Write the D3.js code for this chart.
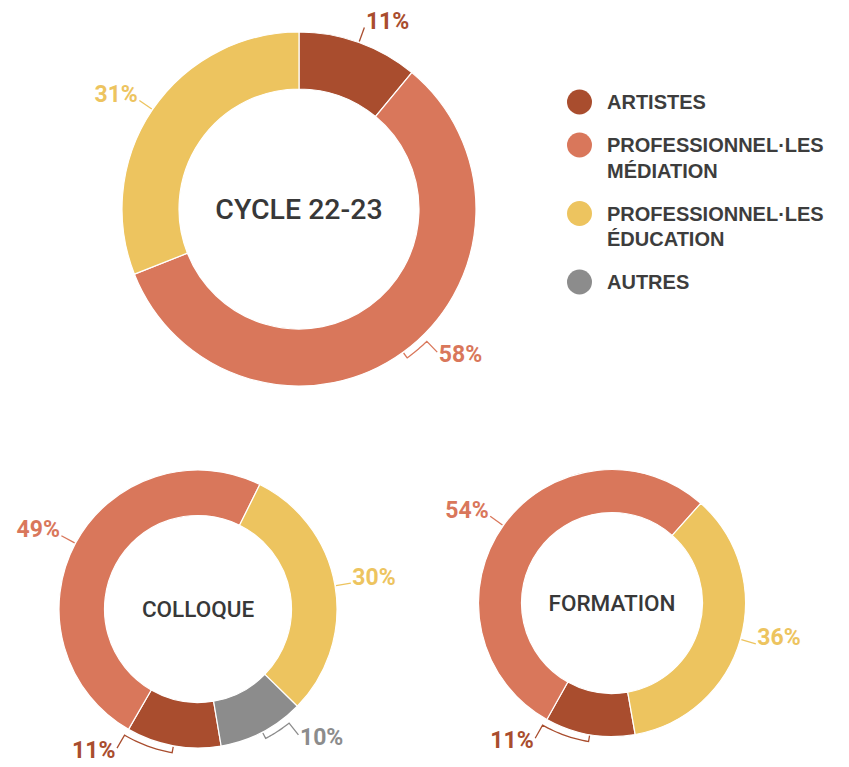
<!DOCTYPE html>
<html>
<head>
<meta charset="utf-8">
<script src="https://cdn.jsdelivr.net/npm/d3@7"></script>
<style>
  html, body { margin: 0; padding: 0; background: #ffffff; }
  svg { display: block; }
</style>
</head>
<body>
<svg id="chart" width="849" height="767"></svg>
<script>
// ---- data ----
const categories = ["ARTISTES", "PROFESSIONNEL·LES MÉDIATION", "PROFESSIONNEL·LES ÉDUCATION", "AUTRES"];
const colors = ["#a94d2e", "#d9775b", "#edc45f", "#8c8c8c"];
const cycleValues = [11, 58, 31, 0];
const colloqueValues = [11, 49, 30, 10];
const formationValues = [11, 54, 36, 0];
const chartTitles = ["CYCLE 22-23", "COLLOQUE", "FORMATION"];

// ---- layout ----
const layouts = [
  { values: cycleValues, title: chartTitles[0], cx: 299, cy: 209, rOut: 177, rIn: 120, start: 0, titleSize: 28.5, brackets: { 1: -8 } },
  { values: colloqueValues, title: chartTitles[1], cx: 198, cy: 609, rOut: 139, rIn: 93.5, start: 170.4, titleSize: 22.5, brackets: { 0: 20, 3: -11 } },
  { values: formationValues, title: chartTitles[2], cx: 612, cy: 603, rOut: 133.5, rIn: 90.5, start: 170, titleSize: 22.5, brackets: { 0: 20 } }
];

const svg = d3.select("#chart");
const rad = d => d * Math.PI / 180;
const pt = (a, r) => [Math.sin(a) * r, -Math.cos(a) * r];

layouts.forEach(L => {
  const g = svg.append("g").attr("transform", `translate(${L.cx},${L.cy})`);
  const data = L.values.map((v, i) => ({ v, i })).filter(d => d.v > 0);
  const pie = d3.pie().sort(null).value(d => d.v)
    .startAngle(rad(L.start)).endAngle(rad(L.start) + 2 * Math.PI);
  const arcs = pie(data);
  const arc = d3.arc().innerRadius(L.rIn).outerRadius(L.rOut);

  g.selectAll("path.slice").data(arcs).join("path")
    .attr("class", "slice")
    .attr("d", arc)
    .attr("fill", d => colors[d.data.i])
    .attr("stroke", "#ffffff")
    .attr("stroke-width", 1.2);

  g.append("text")
    .attr("x", 0).attr("y", 0)
    .attr("text-anchor", "middle")
    .attr("dominant-baseline", "central")
    .attr("font-family", "Roboto, sans-serif")
    .attr("font-weight", 500)
    .attr("font-size", L.titleSize)
    .attr("fill", "#383838")
    .text(L.title);

  arcs.forEach(d => {
    const mid = (d.startAngle + d.endAngle) / 2;
    const col = colors[d.data.i];
    const span = L.brackets[d.data.i];
    let endA, endR, bracket = false;
    if (span !== undefined) {
      bracket = true;
      const rb = L.rOut + 7;
      endA = mid + rad(span);
      const path = d3.path();
      const p0 = pt(mid, L.rOut + 1);
      path.moveTo(p0[0], p0[1]);
      const p1 = pt(mid, rb);
      path.lineTo(p1[0], p1[1]);
      const steps = 16;
      for (let k = 1; k <= steps; k++) {
        const a = mid + (endA - mid) * k / steps;
        const p = pt(a, rb);
        path.lineTo(p[0], p[1]);
      }
      endR = rb + 15;
      const pe = pt(endA, endR);
      path.lineTo(pe[0], pe[1]);
      g.append("path").attr("d", path.toString())
        .attr("fill", "none").attr("stroke", col).attr("stroke-width", 1.3);
    } else {
      endA = mid;
      endR = L.rOut + 16;
      const p0 = pt(mid, L.rOut + 1), pe = pt(mid, endR);
      g.append("line")
        .attr("x1", p0[0]).attr("y1", p0[1]).attr("x2", pe[0]).attr("y2", pe[1])
        .attr("stroke", col).attr("stroke-width", 1.3);
    }
    const pe = pt(endA, endR);
    const right = Math.sin(endA) > 0;
    g.append("text")
      .attr("x", pe[0] + (right ? 1.5 : -1.5))
      .attr("y", pe[1] + (bracket ? 10 : 1.5))
      .attr("text-anchor", right ? "start" : "end")
      .attr("font-family", "Roboto, sans-serif")
      .attr("font-weight", 700)
      .attr("font-size", 23)
      .attr("fill", col)
      .text(d.data.v + "%");
  });
});

// ---- legend ----
const legend = svg.append("g");
let ly = 102;
categories.forEach((c, i) => {
  const lines = c.split(" ");
  legend.append("circle").attr("cx", 579.5).attr("cy", ly).attr("r", 12.5).attr("fill", colors[i]);
  const t = legend.append("text")
    .attr("font-family", "'Liberation Sans', Arial, sans-serif")
    .attr("font-weight", 700)
    .attr("font-size", 20)
    .attr("fill", "#3d3d3d");
  lines.forEach((ln, k) => {
    t.append("tspan").attr("x", 607).attr("y", ly + 7 + k * 25.5).text(ln);
  });
  ly += 43 + (lines.length - 1) * 25.5;
});
</script>
</body>
</html>
